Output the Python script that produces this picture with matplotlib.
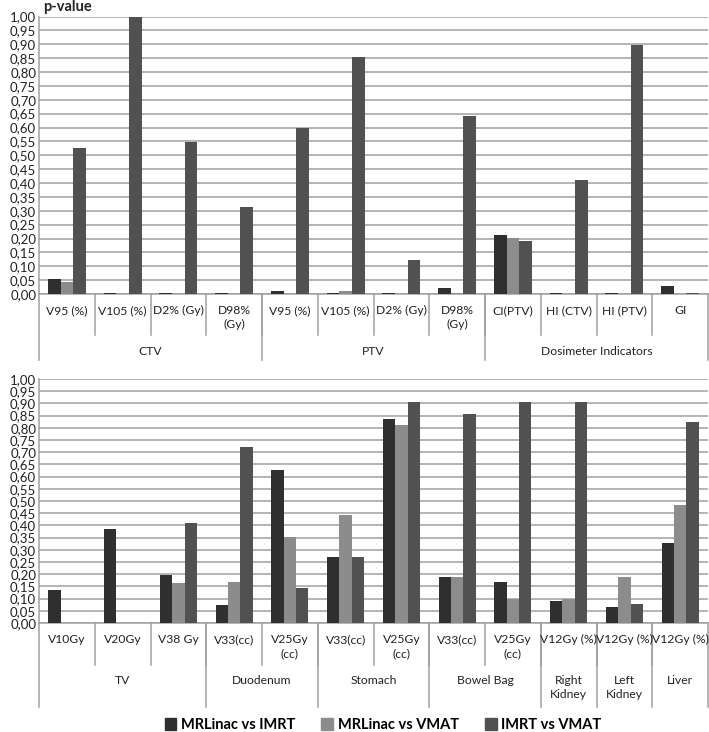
import matplotlib.pyplot as plt
import numpy as np
from matplotlib.patches import Patch
from matplotlib.ticker import FuncFormatter, MultipleLocator

plt.rcParams['font.family'] = ['Lato', 'DejaVu Sans']

series = ['MRLinac vs IMRT', 'MRLinac vs VMAT', 'IMRT vs VMAT']
colors = ['#2f2f2f', '#8c8c8c', '#515151']

# top panel: target volumes and dosimeter indicators
top_cats = ['V95 (%)', 'V105 (%)', 'D2% (Gy)', 'D98%\n(Gy)',
            'V95 (%)', 'V105 (%)', 'D2% (Gy)', 'D98%\n(Gy)',
            'CI(PTV)', 'HI (CTV)', 'HI (PTV)', 'GI']
top_groups = [('CTV', 4), ('PTV', 4), ('Dosimeter Indicators', 4)]
top_a = [0.055, 0.002, 0.002, 0.002, 0.012, 0.002, 0.002, 0.022, 0.211, 0.002, 0.002, 0.030]
top_b = [0.045, 0.0, 0.0, 0.0, 0.0, 0.012, 0.0, 0.004, 0.203, 0.0, 0.0, 0.0]
top_c = [0.527, 1.000, 0.546, 0.313, 0.600, 0.854, 0.122, 0.643, 0.191, 0.410, 0.899, 0.002]

# bottom panel: organs at risk
bot_cats = ['V10Gy', 'V20Gy', 'V38 Gy', 'V33(cc)', 'V25Gy\n(cc)', 'V33(cc)',
            'V25Gy\n(cc)', 'V33(cc)', 'V25Gy\n(cc)', 'V12Gy (%)', 'V12Gy (%)', 'V12Gy (%)']
bot_groups = [('TV', 3), ('Duodenum', 2), ('Stomach', 2), ('Bowel Bag', 2),
              ('Right\nKidney', 1), ('Left\nKidney', 1), ('Liver', 1)]
bot_a = [0.134, 0.387, 0.198, 0.074, 0.628, 0.271, 0.837, 0.190, 0.168, 0.090, 0.067, 0.327]
bot_b = [0.0, 0.0, 0.164, 0.168, 0.351, 0.441, 0.811, 0.190, 0.100, 0.100, 0.190, 0.484]
bot_c = [0.0, 0.0, 0.410, 0.720, 0.142, 0.271, 0.904, 0.857, 0.904, 0.904, 0.077, 0.824]

W, H = 709, 732
fig = plt.figure(figsize=(W / 100, H / 100), dpi=100)
grid_col = '#a0a0a0'
txt_col = '#222222'


def panel(rect, cats, groups, vals, width, cat_len, grp_len):
    ax = fig.add_axes(rect)
    axh = rect[3] * H
    x = np.arange(len(cats))
    for k, v in enumerate(vals):
        ax.bar(x + (k - 1) * width, v, width, color=colors[k], zorder=3)
    ax.set_xlim(-0.5, len(cats) - 0.5)
    ax.set_ylim(0, 1)
    ax.yaxis.set_major_locator(MultipleLocator(0.05))
    ax.yaxis.set_major_formatter(FuncFormatter(lambda v, p: f'{v:.2f}'.replace('.', ',')))
    ax.tick_params(axis='y', length=0, pad=2, labelsize=9.5, colors=txt_col)
    ax.set_xticks([])
    ax.grid(axis='y', color=grid_col, lw=1.1, zorder=0)
    for s in ['top', 'right']:
        ax.spines[s].set_visible(False)
    for s in ['left', 'bottom']:
        ax.spines[s].set_color(grid_col)
        ax.spines[s].set_linewidth(1.1)
    tr = ax.get_xaxis_transform()
    # category labels and dividers
    for i, c in enumerate(cats):
        ax.text(i, -11 / axh, c, transform=tr, ha='center', va='top',
                fontsize=8.7, linespacing=1.35, color=txt_col)
    for i in range(1, len(cats)):
        ax.plot([i - 0.5, i - 0.5], [0, -cat_len / axh], transform=tr,
                color=grid_col, lw=1.1, clip_on=False)
    # group labels and dividers
    start = 0
    edges = [-0.5]
    for name, n in groups:
        mid = start + (n - 1) / 2
        ax.text(mid, -52 / axh, name, transform=tr, ha='center', va='top',
                fontsize=8.7, linespacing=1.35, color=txt_col)
        start += n
        edges.append(start - 0.5)
    for e in edges:
        ax.plot([e, e], [0, -grp_len / axh], transform=tr,
                color=grid_col, lw=1.1, clip_on=False)
    return ax


ax1 = panel([39 / W, 1 - 294 / H, 669 / W, 277.5 / H], top_cats, top_groups,
            [top_a, top_b, top_c], 0.227, 41, 66)
ax2 = panel([39 / W, 1 - 623 / H, 669 / W, 244 / H], bot_cats, bot_groups,
            [bot_a, bot_b, bot_c], 0.22, 42, 84)

fig.text(43 / W, 1 - 7 / H, 'p-value', fontsize=10.5, fontweight='bold',
         ha='left', va='center', color=txt_col)

handles = [Patch(color=c) for c in colors]
fig.legend(handles, series, loc='center', bbox_to_anchor=(383 / W, 1 - 725 / H),
           ncol=3, frameon=False, prop={'weight': 'bold', 'size': 10.5},
           handlelength=0.8, handleheight=0.8, handletextpad=0.3, columnspacing=1.8)

fig.savefig('out.png', dpi=100)
